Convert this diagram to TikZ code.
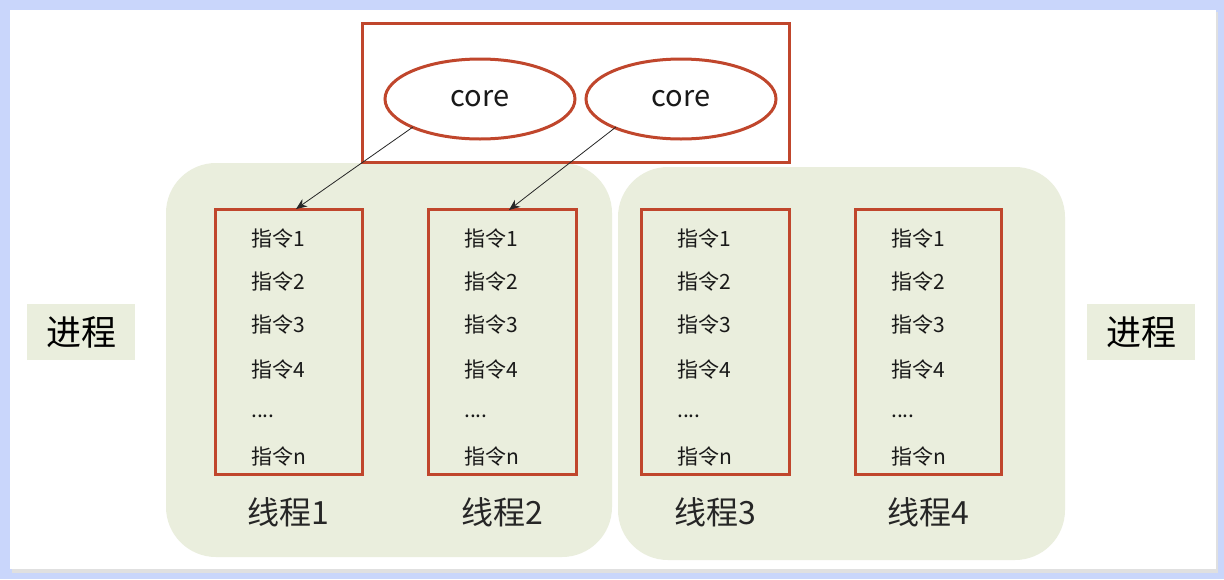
\documentclass[tikz,border=0pt]{standalone}
\usepackage{fontspec}
\setmainfont{Noto Sans CJK SC}
\usetikzlibrary{shapes.geometric,arrows.meta}
\definecolor{redline}{HTML}{C0462C}
\definecolor{greenfill}{HTML}{EAEEDD}
\definecolor{frameblue}{HTML}{C9D6FB}
\tikzset{
  x=1pt,y=-1pt,
  redbox/.style={draw=redline,line width=3pt},
  coreell/.style={ellipse,draw=redline,line width=3pt,minimum width=190pt,minimum height=80pt,font=\fontsize{29}{32}\selectfont,text=black!90},
  groupbox/.style={fill=greenfill,rounded corners=50pt},
  instr/.style={anchor=west,font=\fontsize{21}{24}\selectfont,text=black!90,inner sep=0pt},
  thlabel/.style={font=\fontsize{32}{36}\selectfont,text=black!85,inner sep=0pt},
  proc/.style={fill=greenfill,minimum width=108pt,minimum height=56pt,font=\fontsize{35}{38}\selectfont,inner sep=0pt},
  conn/.style={-{Stealth[length=11pt,width=9pt]},line width=0.8pt,black!85}
}
\begin{document}
\begin{tikzpicture}
\useasboundingbox (0,0) rectangle (1224,579);
\fill[frameblue] (0,0) rectangle (1224,579);
\fill[black!12] (12,12) rectangle (1218,573);
\fill[white] (10,10) rectangle (1216,569);
% group backgrounds
\fill[groupbox] (166,163) rectangle (612,557);
\fill[groupbox] (618,167) rectangle (1065,560);
% top cores box
\draw[redbox] (362,23) rectangle (789,162);
\node[coreell] (c1) at (480,99) {core};
\node[coreell] (c2) at (681,99) {core};
% thread boxes
\foreach \i/\xl/\xr in {1/215/362,2/428/576,3/641/789,4/855/1001}{
  \draw[redbox] (\xl,209) rectangle (\xr,474);
  \node[inner sep=0pt] (t\i) at ({(\xl+\xr)/2},209) {};
  \node[instr] (t\i a) at (\xl+36,239) {指令1};
  \node[instr] (t\i b) at (\xl+36,282) {指令2};
  \node[instr] (t\i c) at (\xl+36,325) {指令3};
  \node[instr] (t\i d) at (\xl+36,370) {指令4};
  \node[instr] (t\i e) at (\xl+36,416) {....};
  \node[instr] (t\i f) at (\xl+36,457) {指令n};
  \node[thlabel] (l\i) at ({(\xl+\xr)/2},512) {线程\i};
}
% process labels
\node[proc] (p1) at (81,332) {进程};
\node[proc] (p2) at (1141,332) {进程};
% connectors
\coordinate (s1) at (413,127);
\coordinate (e1) at (296,209);
\coordinate (s2) at (616,127);
\coordinate (e2) at (509,210);
\draw[conn] (s1) -- (e1);
\draw[conn] (s2) -- (e2);
\end{tikzpicture}
\end{document}
